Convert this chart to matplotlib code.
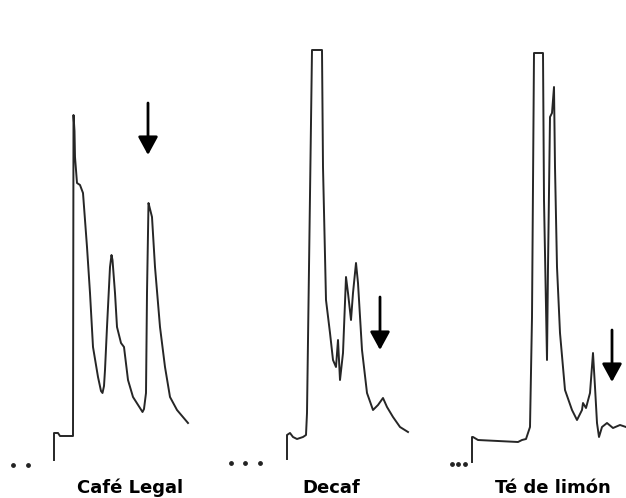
import matplotlib
matplotlib.use("Agg")
import matplotlib.pyplot as plt

# chromatogram traces: time (arbitrary min) and detector signal (arbitrary units)
cafe_t = [0, 0, 0.4, 0.6, 1.9, 1.95, 2.05, 2.1, 2.3, 2.6, 2.9, 3.3, 3.6, 3.9, 4.4,
          4.7, 4.85, 5.0, 5.1, 5.3, 5.6, 5.75, 5.85, 6.1, 6.3, 6.7, 7.0, 7.4,
          7.9, 8.6, 8.85, 9.0, 9.2, 9.3, 9.45, 9.55, 9.8, 10.1, 10.6, 11.1,
          11.6, 12.3, 13.4]
cafe_s = [-2.4, 0.3, 0.3, 0, 0, 32.1, 30.5, 27.9, 25.3, 25.1, 24.3, 18.9, 14.3,
          8.9, 5.9, 4.5, 4.3, 5.0, 6.6, 10.9, 16.9, 18.1, 17.6, 14.3, 10.9, 9.3,
          8.9, 5.6, 3.9, 2.8, 2.4, 2.7, 4.3, 14.3, 23.3, 22.9, 21.9, 16.9, 10.9,
          6.9, 3.9, 2.6, 1.3]

decaf_t = [0, 0, 0.3, 0.6, 1.0, 1.6, 1.9, 2.0, 2.5, 3.5, 3.6, 3.9, 4.3, 4.6, 4.9,
           5.1, 5.3, 5.6, 5.9, 6.1, 6.4, 6.6, 6.9, 7.1, 7.5, 8.0, 8.6, 9.1, 9.6,
           10.0, 10.6, 11.3, 12.1]
decaf_s = [-2.2, 0.2, 0.4, 0, -0.2, 0, 0.2, 2.4, 38.7, 38.7, 27.0, 13.7, 10.4,
           7.7, 7.0, 9.7, 5.7, 8.4, 16.0, 14.4, 11.7, 14.4, 17.4, 15.4, 8.7, 4.4,
           2.7, 3.2, 3.9, 3.0, 2.0, 1.0, 0.5]

te_t = [0, 0, 0.1, 0.6, 4.6, 5.0, 5.4, 5.8, 6.0, 6.2, 7.1, 7.2, 7.5, 7.6, 7.8,
        8.0, 8.2, 8.3, 8.5, 8.8, 9.3, 10.0, 10.5, 11.0, 11.1, 11.4, 11.8, 12.1,
        12.3, 12.5, 12.7, 13.0, 13.5, 14.1, 14.8, 15.4]
te_s = [-2.2, 0.3, 0.3, 0, -0.2, 0, 0.1, 1.3, 12.3, 38.7, 38.7, 24.0, 8.0, 17.3,
        32.3, 32.7, 35.3, 27.3, 17.3, 10.7, 5.0, 3.0, 2.0, 3.0, 3.7, 3.2, 4.7,
        8.7, 5.3, 1.7, 0.3, 1.3, 1.7, 1.2, 1.5, 1.3]

names = ["Café Legal", "Decaf", "Té de limón"]
times = [cafe_t, decaf_t, te_t]
signals = [cafe_s, decaf_s, te_s]

# arrows marking the peak of interest (time, top, tip)
arrow_t = [9.4, 9.3, 14.0]
arrow_top = [33.3, 14.0, 11.0]
arrow_tip = [28.1, 8.7, 5.8]

# small marker dots printed below the start of each run
dot_t = [[-4.1, -2.6], [-5.6, -4.2, -2.7], [-2.0, -1.4, -0.7]]
dot_s = [[-2.9, -2.9], [-2.6, -2.6, -2.6], [-2.4, -2.4, -2.4]]

W, H = 626, 498
fig = plt.figure(figsize=(W / 100, H / 100), dpi=100)

origins = [(54, 436), (287, 437), (472, 440)]   # pixel anchor of t=0, s=0
label_x = [130, 331, 553]
px = 10.0   # pixels per unit
xlim = (-7, 17)
ylim = (-5, 45)

for i in range(3):
    ox, oy = origins[i]
    left = (ox + xlim[0] * px) / W
    bottom = (H - oy + ylim[0] * px) / H
    ax = fig.add_axes([left, bottom, (xlim[1] - xlim[0]) * px / W,
                       (ylim[1] - ylim[0]) * px / H])
    ax.set_xlim(*xlim)
    ax.set_ylim(*ylim)
    ax.patch.set_alpha(0)
    ax.axis("off")
    ax.plot(times[i], signals[i], color="#262626", lw=1.4, solid_joinstyle="round",
            clip_on=False)
    ax.annotate("", xy=(arrow_t[i], arrow_tip[i]), xytext=(arrow_t[i], arrow_top[i]),
                arrowprops=dict(arrowstyle="-|>,head_length=1.1,head_width=0.6",
                                color="black", lw=2.0, shrinkA=0, shrinkB=0))
    ax.scatter(dot_t[i], dot_s[i], s=6, color="#222222", clip_on=False)
    fig.text(label_x[i] / W, 1 - 493 / H, names[i], ha="center", va="baseline",
             fontsize=13, fontweight="bold", color="black")

fig.savefig("out.png", dpi=100, facecolor="white")
